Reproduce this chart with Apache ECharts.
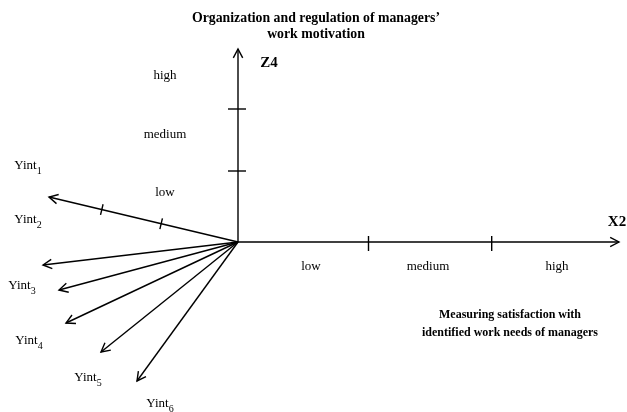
<!DOCTYPE html>
<html>
<head>
<meta charset="utf-8">
<script src="https://cdn.jsdelivr.net/npm/echarts@6/dist/echarts.min.js"></script>
<style>
  html, body { margin: 0; padding: 0; background: #fff; }
  #chart { width: 627px; height: 412px; }
</style>
</head>
<body>
<div id="chart"></div>
<script>
// axis arrows: end point of each arrow, measured from the common origin
const axisNames = ['Z4', 'X2', 'Yint1', 'Yint2', 'Yint3', 'Yint4', 'Yint5', 'Yint6'];
const arrowX = [0, 381, -189, -195, -179, -172, -137, -101];
const arrowY = [193, 0, 45, -23, -48, -81, -110, -139];

// where the name of each axis sits
const nameX = [31, 379, -210, -210, -216, -209, -150, -78];
const nameY = [179, 20, 76, 22, -44, -99, -136, -162];

// level boundaries (distance along the axis)
const tickAxis = ['Z4', 'Z4', 'X2', 'X2', 'Yint1', 'Yint1'];
const tickDist = [71, 133, 130.5, 253.7, 79, 140];

// level labels
const levelNames = ['low', 'medium', 'high'];
const z4LevelX = [-73, -73, -73];
const z4LevelY = [49, 107, 166];
const x2LevelX = [73, 190, 319];
const x2LevelY = [-25, -25, -25];

const topTitle = 'Organization and regulation of managers’\nwork motivation';
const bottomTitle = 'Measuring satisfaction with\nidentified work needs of managers';

var chartDom = document.getElementById('chart');
var myChart = echarts.init(chartDom);

const serif = "'Liberation Serif', 'Times New Roman', serif";
const lineStyle = { stroke: '#000', lineWidth: 1.4, fill: null };

// direction of an axis on screen
function axisDir(api, name) {
  const i = axisNames.indexOf(name);
  const o = api.coord([0, 0]);
  const p = api.coord([arrowX[i], arrowY[i]]);
  const len = Math.hypot(p[0] - o[0], p[1] - o[1]);
  return { o: o, p: p, ux: (p[0] - o[0]) / len, uy: (p[1] - o[1]) / len };
}

const arrowData = axisNames.map((n, i) => [arrowX[i], arrowY[i], n]);
const tickData = tickAxis.map((a, i) => [tickDist[i], 0, a]);

// tick extent on each side of the axis line (screen px)
const tickSpan = { Z4: [-10, 8], X2: [-6, 9], Yint1: [-5.5, 5.5] };

const labelData = [];
axisNames.forEach((n, i) => labelData.push([nameX[i], nameY[i], n]));
levelNames.forEach((n, i) => {
  labelData.push([z4LevelX[i], z4LevelY[i], n]);
  labelData.push([x2LevelX[i], x2LevelY[i], n]);
});

function labelText(t) {
  if (t === 'Z4' || t === 'X2') return '{b|' + t + '}';
  if (t.indexOf('Yint') === 0) return '{y|Yint}{s|' + t.slice(4) + '}';
  return '{r|' + t + '}';
}

const option = {
  backgroundColor: '#fff',
  animation: false,
  grid: { left: 0, right: 0, top: 0, bottom: 0 },
  xAxis: { type: 'value', min: -238, max: 389, show: false },
  yAxis: { type: 'value', min: -170, max: 242, show: false },
  graphic: [
    {
      type: 'text', x: 316, y: 11,
      style: { text: topTitle, align: 'center', verticalAlign: 'top', font: 'bold 13.8px ' + serif, lineHeight: 15.5, fill: '#000' }
    },
    {
      type: 'text', x: 510, y: 306,
      style: { text: bottomTitle, align: 'center', verticalAlign: 'top', font: 'bold 12px ' + serif, lineHeight: 18, fill: '#000' }
    }
  ],
  series: [
    {
      name: 'arrows',
      type: 'custom',
      data: arrowData,
      silent: true,
      renderItem: function (params, api) {
        const d = axisDir(api, arrowData[params.dataIndex][2]);
        const L = 10, th = 28 * Math.PI / 180;
        const bx = -d.ux, by = -d.uy;
        const w1 = [d.p[0] + L * (bx * Math.cos(th) - by * Math.sin(th)), d.p[1] + L * (bx * Math.sin(th) + by * Math.cos(th))];
        const w2 = [d.p[0] + L * (bx * Math.cos(-th) - by * Math.sin(-th)), d.p[1] + L * (bx * Math.sin(-th) + by * Math.cos(-th))];
        return {
          type: 'group',
          children: [
            { type: 'polyline', shape: { points: [d.o, d.p] }, style: lineStyle },
            { type: 'polyline', shape: { points: [w1, d.p, w2] }, style: lineStyle }
          ]
        };
      }
    },
    {
      name: 'ticks',
      type: 'custom',
      data: tickData,
      silent: true,
      renderItem: function (params, api) {
        const row = tickData[params.dataIndex];
        const d = axisDir(api, row[2]);
        const i = axisNames.indexOf(row[2]);
        const t = row[0] / Math.hypot(arrowX[i], arrowY[i]);
        const c = [d.o[0] + (d.p[0] - d.o[0]) * t, d.o[1] + (d.p[1] - d.o[1]) * t];
        const nx = -d.uy, ny = d.ux;
        const s = tickSpan[row[2]];
        return {
          type: 'line',
          shape: { x1: c[0] + nx * s[0], y1: c[1] + ny * s[0], x2: c[0] + nx * s[1], y2: c[1] + ny * s[1] },
          style: lineStyle
        };
      }
    },
    {
      name: 'labels',
      type: 'custom',
      data: labelData,
      silent: true,
      renderItem: function (params, api) {
        const row = labelData[params.dataIndex];
        const p = api.coord([row[0], row[1]]);
        return {
          type: 'text',
          x: p[0], y: p[1],
          style: {
            text: labelText(row[2]),
            align: 'center',
            verticalAlign: 'middle',
            fill: '#000',
            rich: {
              b: { fontFamily: serif, fontWeight: 'bold', fontSize: 15, fill: '#000' },
              r: { fontFamily: serif, fontSize: 13, fill: '#000' },
              y: { fontFamily: serif, fontSize: 13, lineHeight: 20, fill: '#000' },
              s: { fontFamily: serif, fontSize: 10, lineHeight: 10, verticalAlign: 'bottom', fill: '#000' }
            }
          }
        };
      }
    }
  ]
};

option && myChart.setOption(option);
</script>
</body>
</html>
